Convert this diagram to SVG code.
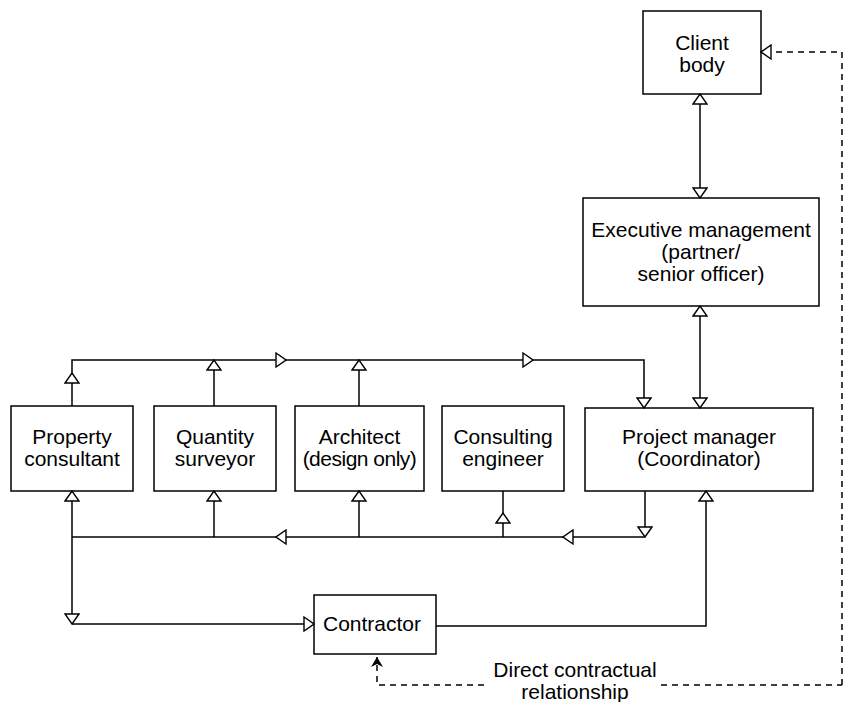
<svg xmlns="http://www.w3.org/2000/svg" width="846" height="702" viewBox="0 0 846 702">
<style>
.box{fill:#fff;stroke:#000;stroke-width:1.5}
.t{font-family:"Liberation Sans",Arial,Helvetica,sans-serif;font-size:21px;fill:#000;text-anchor:middle}
.c{fill:none;stroke:#000;stroke-width:1.5}
.open{marker-end:url(#open)}
.both{marker-start:url(#open);marker-end:url(#open)}
.d{fill:none;stroke:#000;stroke-width:1.5;stroke-dasharray:6 5}
</style>
<defs>
<marker id="open" viewBox="-1 -1 12 16" refX="10" refY="7" markerWidth="12" markerHeight="16" markerUnits="userSpaceOnUse" orient="auto-start-reverse">
<path d="M0,0 L10,7 L0,14 Z" fill="#fff" stroke="#000" stroke-width="1.4"/>
</marker>
<marker id="classic" viewBox="0 0 10 12" refX="10" refY="6" markerWidth="10" markerHeight="12" markerUnits="userSpaceOnUse" orient="auto">
<path d="M0,0 L10,6 L0,12 L3,6 Z" fill="#000"/>
</marker>
</defs>
<g id="client-body"><rect class="box" x="643" y="11" width="118" height="83"/><text class="t" x="702" y="50">Client</text><text class="t" x="702" y="72">body</text></g>
<g id="executive-management"><rect class="box" x="583" y="198" width="236" height="108"/><text class="t" x="701" y="237">Executive management</text><text class="t" x="701" y="259">(partner/</text><text class="t" x="701" y="281">senior officer)</text></g>
<g id="property-consultant"><rect class="box" x="11" y="406" width="122" height="85"/><text class="t" x="72" y="444">Property</text><text class="t" x="72" y="466">consultant</text></g>
<g id="quantity-surveyor"><rect class="box" x="154" y="406" width="122" height="85"/><text class="t" x="215" y="444">Quantity</text><text class="t" x="215" y="466">surveyor</text></g>
<g id="architect"><rect class="box" x="295" y="406" width="129" height="85"/><text class="t" x="359.5" y="444">Architect</text><text class="t" x="359.5" y="466" letter-spacing="-0.5">(design only)</text></g>
<g id="consulting-engineer"><rect class="box" x="442" y="406" width="122" height="85"/><text class="t" x="503" y="444">Consulting</text><text class="t" x="503" y="466">engineer</text></g>
<g id="project-manager"><rect class="box" x="585" y="408" width="228" height="83"/><text class="t" x="699" y="444">Project manager</text><text class="t" x="699" y="466">(Coordinator)</text></g>
<g id="contractor"><rect class="box" x="314" y="595" width="122" height="59"/><text class="t" x="372" y="631">Contractor</text></g>
<g id="connectors">
<path class="c both" d="M700,94 L700,198"/>
<path class="c both" d="M700,306 L700,408"/>
<path class="c open" d="M72,406 L72,373"/>
<path class="c open" d="M72,373 L72,360 L286,360"/>
<path class="c open" d="M286,360 L533,360"/>
<path class="c open" d="M533,360 L644,360 L644,408"/>
<path class="c open" d="M214,406 L214,360"/>
<path class="c open" d="M359,406 L359,360"/>
<path class="c open" d="M645,491 L645,537"/>
<path class="c open" d="M645,537 L563,537"/>
<path class="c open" d="M563,537 L276,537"/>
<path class="c" d="M276,537 L72,537"/>
<path class="c open" d="M503,537 L503,513"/>
<path class="c" d="M503,513 L503,491"/>
<path class="c open" d="M359,537 L359,491"/>
<path class="c open" d="M214,537 L214,491"/>
<path class="c open" d="M72,537 L72,491"/>
<path class="c open" d="M72,537 L72,624"/>
<path class="c open" d="M72,624 L314,624"/>
<path class="c open" d="M436,626 L706,626 L706,491"/>
<path class="d open" d="M842,685 L842,52 L761,52"/>
<path class="d" d="M661,685 L842,685"/>
<path class="d" d="M484,685 L377,685 L377,657" marker-end="url(#classic)"/>
<text class="t" x="575" y="677">Direct contractual</text>
<text class="t" x="575" y="699">relationship</text>
</g>
</svg>
